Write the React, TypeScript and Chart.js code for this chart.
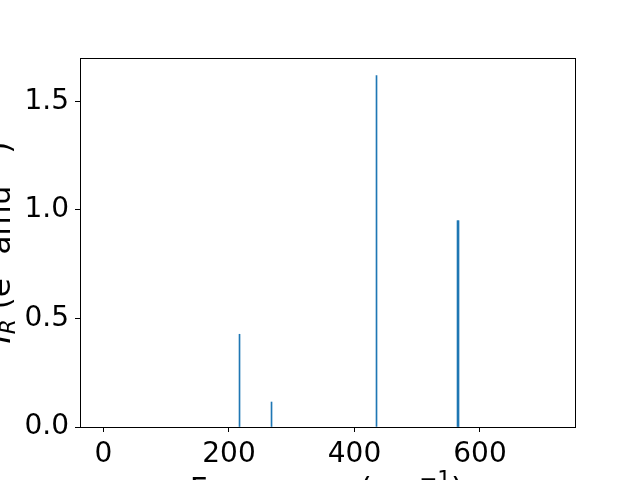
import React, { useEffect, useRef } from "react";
import { Chart, registerables } from "chart.js";

Chart.register(...registerables);

// Vibrational modes: frequency (cm^-1) and intensity
const freqs = [216.8, 267.8, 435.1, 564.2, 565.8];
const intensities = [0.427, 0.115, 1.618, 0.95, 0.95];

const xTicks = [0, 200, 400, 600];
const yTicks = [0, 0.5, 1.0, 1.5];

const xMin = -37.4;
const xMax = 753;
const yMin = 0;
const yMax = 1.699;

type Seg = { t: string; it?: boolean; sc?: number; dy?: number };

const FS = 28;
const TFS = 31;
const FAMILY = '"DejaVu Sans", sans-serif';

const yTitle: Seg[] = [
  { t: "I", it: true },
  { t: "R", it: true, sc: 0.7, dy: 0.16 },
  { t: " (" },
  { t: "e" },
  { t: "2", sc: 0.7, dy: -0.42 },
  { t: " amu" },
  { t: "\u22121", sc: 0.7, dy: -0.42 },
  { t: ")" },
];

const xTitle: Seg[] = [
  { t: "Frequency (cm" },
  { t: "\u22121", sc: 0.7, dy: -0.42 },
  { t: ")" },
];

function fontFor(s: Seg) {
  const size = TFS * (s.sc || 1);
  return `${s.it ? "italic " : ""}${size}px ${FAMILY}`;
}

function drawRich(ctx: CanvasRenderingContext2D, segs: Seg[]) {
  let w = 0;
  const widths = segs.map((s) => {
    ctx.font = fontFor(s);
    const m = ctx.measureText(s.t).width;
    w += m;
    return m;
  });
  let x = -w / 2;
  segs.forEach((s, i) => {
    ctx.font = fontFor(s);
    ctx.fillText(s.t, x, (s.dy || 0) * TFS);
    x += widths[i];
  });
}

const framePlugin = {
  id: "frameAndTitles",
  afterDraw(chart: any) {
    const ctx: CanvasRenderingContext2D = chart.ctx;
    const a = chart.chartArea;
    ctx.save();
    ctx.strokeStyle = "#000";
    ctx.lineWidth = 1;
    ctx.strokeRect(
      Math.round(a.left) + 0.5,
      Math.round(a.top) + 0.5,
      Math.round(a.right) - Math.round(a.left) - 1,
      Math.round(a.bottom) - Math.round(a.top)
    );
    ctx.fillStyle = "#000";
    ctx.textBaseline = "alphabetic";
    ctx.textAlign = "left";
    // x title
    ctx.save();
    ctx.translate((a.left + a.right) / 2 - 1.5, a.bottom + 72);
    drawRich(ctx, xTitle);
    ctx.restore();
    // y title
    ctx.save();
    ctx.translate(a.left - 70, (a.top + a.bottom) / 2);
    ctx.rotate(-Math.PI / 2);
    drawRich(ctx, yTitle);
    ctx.restore();
    ctx.restore();
  },
};

export default function App() {
  const ref = useRef<HTMLCanvasElement>(null);
  useEffect(() => {
    if (!ref.current) return;
    const tickFont = { family: FAMILY, size: FS };
    const chart = new Chart(ref.current, {
      type: "bar",
      data: {
        datasets: [
          {
            data: freqs.map((f, i) => ({ x: f, y: intensities[i] })),
            backgroundColor: "#1f77b4",
            borderWidth: 0,
            barThickness: 1,
          } as any,
        ],
      },
      options: {
        responsive: false,
        animation: false,
        devicePixelRatio: 1,
        layout: { padding: { left: 0, top: 58, right: 64, bottom: 0 } },
        plugins: { legend: { display: false }, tooltip: { enabled: false } },
        scales: {
          x: {
            type: "linear",
            min: xMin,
            max: xMax,
            offset: false,
            afterFit: (s: any) => {
              s.height = 53;
            },
            afterBuildTicks: (s: any) => {
              s.ticks = xTicks.map((v) => ({ value: v }));
            },
            grid: {
              display: true,
              offset: false,
              drawOnChartArea: false,
              drawTicks: true,
              tickLength: 5,
              tickColor: "#000",
              tickWidth: 1,
            },
            border: { display: false },
            ticks: {
              font: tickFont,
              color: "#000",
              padding: 6,
              maxRotation: 0,
              autoSkip: false,
              callback: (v: any) => String(v),
            },
          },
          y: {
            type: "linear",
            min: yMin,
            max: yMax,
            afterFit: (s: any) => {
              s.width = 80;
            },
            afterBuildTicks: (s: any) => {
              s.ticks = yTicks.map((v) => ({ value: v }));
            },
            grid: {
              display: true,
              offset: false,
              drawOnChartArea: false,
              drawTicks: true,
              tickLength: 5,
              tickColor: "#000",
              tickWidth: 1,
            },
            border: { display: false },
            ticks: {
              font: tickFont,
              color: "#000",
              padding: 6,
              autoSkip: false,
              callback: (v: any) => Number(v).toFixed(1),
            },
          },
        },
      } as any,
      plugins: [framePlugin],
    });
    return () => chart.destroy();
  }, []);
  return (
    <div style={{ position: "absolute", left: 0, top: 0, width: 640, height: 480, background: "#fff" }}>
      <canvas ref={ref} width={640} height={480} style={{ display: "block" }} />
    </div>
  );
}
